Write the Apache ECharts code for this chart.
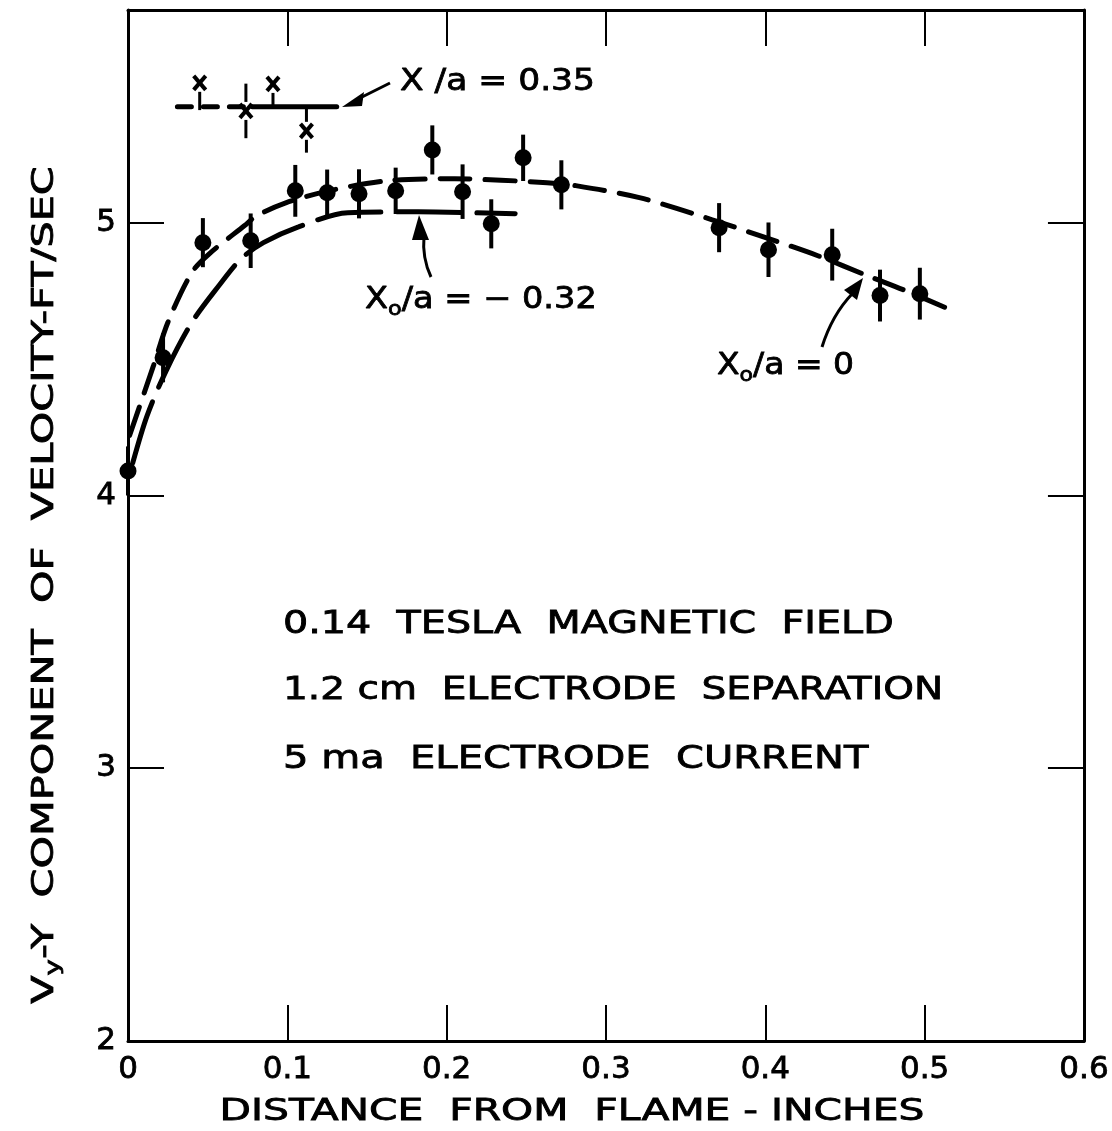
<!DOCTYPE html>
<html>
<head>
<meta charset="utf-8">
<title>Vy component of velocity vs distance from flame</title>
<script src="https://cdn.jsdelivr.net/npm/echarts@6/dist/echarts.min.js"></script>
<style>html,body{margin:0;background:#fff;}</style>
</head>
<body>
<div id="chart" style="width:1112px;height:1131px;"></div>
<script>
// measured points (filled circles) with their error bar half heights
var distX = [0.0, 0.022, 0.047, 0.077, 0.105, 0.125, 0.145, 0.168, 0.191, 0.210, 0.228, 0.248, 0.272, 0.371, 0.402, 0.442, 0.472, 0.497];
var velY  = [4.09, 4.505, 4.927, 4.934, 5.117, 5.110, 5.106, 5.117, 5.267, 5.114, 4.996, 5.238, 5.139, 4.982, 4.901, 4.883, 4.733, 4.740];
var errY  = [0.09, 0.09, 0.09, 0.10, 0.095, 0.085, 0.09, 0.085, 0.09, 0.10, 0.09, 0.085, 0.09, 0.09, 0.10, 0.095, 0.095, 0.095];

// X/a = 0.35 crosses
var crossX    = [0.045, 0.074, 0.091, 0.112];
var crossY    = [5.513, 5.410, 5.509, 5.337];
var crossUp   = [0, 0.10, 0, 0.09];
var crossDown = [0.10, 0.10, 0.08, 0.08];

// faired curves
var curve0X  = [0.001, 0.016, 0.025, 0.040, 0.051, 0.073, 0.081, 0.099, 0.126, 0.163, 0.205, 0.263, 0.281, 0.321, 0.363, 0.397, 0.433, 0.464, 0.488, 0.513];
var curve0Y  = [4.22, 4.476, 4.634, 4.817, 4.886, 4.989, 5.026, 5.073, 5.117, 5.154, 5.161, 5.147, 5.136, 5.092, 5.018, 4.952, 4.879, 4.806, 4.751, 4.689];
var curve32X = [0.003, 0.012, 0.024, 0.040, 0.057, 0.071, 0.085, 0.107, 0.138, 0.182, 0.243];
var curve32Y = [4.12, 4.293, 4.458, 4.634, 4.769, 4.868, 4.927, 4.985, 5.037, 5.040, 5.033];
var line35X  = [0.031, 0.078, 0.131];
var line35Y  = [5.425, 5.425, 5.425];

var FONT = 'DejaVu Sans';

function pairs(xs, ys) {
    return xs.map(function (x, i) { return [x, ys[i]]; });
}

var myChart = echarts.init(document.getElementById('chart'));

var axisCommon = {
    type: 'value',
    axisLine: { show: true, onZero: false, lineStyle: { color: '#000', width: 3 } },
    axisTick: { show: true, inside: true, length: 36, lineStyle: { color: '#000', width: 2 } },
    splitLine: { show: false }
};
var tickFont = { color: '#000', fontSize: 31, fontFamily: FONT, textBorderColor: '#000', textBorderWidth: 0.8 };
// annotation text style, slightly heavier like the lettering of the original
function txt(size) {
    return { fontSize: size, fontFamily: FONT, fill: '#000', stroke: '#000', lineWidth: 0.8 };
}

option = {
    animation: false,
    backgroundColor: '#fff',
    grid: { left: 128, right: 22, top: 10, bottom: 90 },
    xAxis: [
        Object.assign({}, axisCommon, {
            min: 0, max: 0.6, interval: 0.1, position: 'bottom',
            axisLabel: Object.assign({ margin: 13 }, tickFont)
        }),
        Object.assign({}, axisCommon, {
            min: 0, max: 0.6, interval: 0.1, position: 'top',
            axisLabel: { show: false }
        })
    ],
    yAxis: [
        Object.assign({}, axisCommon, {
            min: 2, max: 5.78, interval: 1, position: 'left',
            axisLabel: Object.assign({
                margin: 12,
                formatter: function (v) { return v % 1 === 0 ? String(v) : ''; }
            }, tickFont)
        }),
        Object.assign({}, axisCommon, {
            min: 2, max: 5.78, interval: 1, position: 'right',
            axisLabel: { show: false }
        })
    ],
    series: [
        {
            name: 'Xo/a = 0', type: 'line', smooth: 0.3, symbol: 'none', z: 2,
            data: pairs(curve0X, curve0Y),
            lineStyle: { color: '#000', width: 5, type: [30, 15], cap: 'round' }
        },
        {
            name: 'Xo/a = -0.32', type: 'line', smooth: 0.3, symbol: 'none', z: 2,
            data: pairs(curve32X, curve32Y),
            lineStyle: { color: '#000', width: 5, type: [64, 16], cap: 'round' }
        },
        {
            name: 'X/a = 0.35 dashed', type: 'line', symbol: 'none', z: 2,
            data: pairs(line35X.slice(0, 2), line35Y.slice(0, 2)),
            lineStyle: { color: '#000', width: 5, type: [14, 12], cap: 'round' }
        },
        {
            name: 'X/a = 0.35', type: 'line', symbol: 'none', z: 2,
            data: pairs(line35X.slice(1), line35Y.slice(1)),
            lineStyle: { color: '#000', width: 5, cap: 'round' }
        },
        {
            name: 'error bars', type: 'custom', z: 3,
            data: distX.map(function (x, i) { return [x, velY[i] - errY[i], velY[i] + errY[i]]; }),
            renderItem: function (params, api) {
                var lo = api.coord([api.value(0), api.value(1)]);
                var hi = api.coord([api.value(0), api.value(2)]);
                return {
                    type: 'line',
                    shape: { x1: lo[0], y1: lo[1], x2: hi[0], y2: hi[1] },
                    style: { stroke: '#000', lineWidth: 4 }
                };
            }
        },
        {
            name: 'points', type: 'scatter', z: 4,
            symbol: 'circle', symbolSize: 17,
            itemStyle: { color: '#000', opacity: 1 },
            data: pairs(distX, velY)
        },
        {
            name: 'X/a = 0.35 points', type: 'custom', z: 4,
            data: crossX.map(function (x, i) {
                return [x, crossY[i], crossY[i] - crossDown[i], crossY[i] + crossUp[i]];
            }),
            renderItem: function (params, api) {
                var c = api.coord([api.value(0), api.value(1)]);
                var lo = api.coord([api.value(0), api.value(2)]);
                var hi = api.coord([api.value(0), api.value(3)]);
                var s = 6;
                var st = { stroke: '#000', lineWidth: 4 };
                var kids = [
                    { type: 'line', shape: { x1: c[0] - s, y1: c[1] - s - 1, x2: c[0] + s, y2: c[1] + s + 1 }, style: st },
                    { type: 'line', shape: { x1: c[0] + s, y1: c[1] - s - 1, x2: c[0] - s, y2: c[1] + s + 1 }, style: st }
                ];
                if (lo[1] - c[1] > 8) {
                    kids.push({ type: 'line', shape: { x1: c[0], y1: c[1] + 9, x2: lo[0], y2: lo[1] }, style: { stroke: '#000', lineWidth: 3 } });
                }
                if (c[1] - hi[1] > 8) {
                    kids.push({ type: 'line', shape: { x1: c[0], y1: c[1] - 9, x2: hi[0], y2: hi[1] }, style: { stroke: '#000', lineWidth: 3 } });
                }
                return { type: 'group', children: kids };
            }
        }
    ],
    graphic: [
        // axis titles
        {
            type: 'text', x: 572, y: 1112, scaleX: 1.36,
            style: Object.assign({ text: 'DISTANCE  FROM  FLAME - INCHES', align: 'center', verticalAlign: 'middle' }, txt(30))
        },
        {
            type: 'text', x: 45, y: 585, rotation: Math.PI / 2, scaleX: 1.38,
            style: {
                text: '{a|V}{s|y}{a|-Y  COMPONENT  OF  VELOCITY-FT/SEC}',
                align: 'center', verticalAlign: 'middle',
                rich: {
                    a: txt(30),
                    s: Object.assign({ padding: [18, 0, 0, 0] }, txt(20))
                }
            }
        },
        // curve labels
        {
            type: 'text', x: 400, y: 82, scaleX: 1.15,
            style: Object.assign({ text: 'X /a = 0.35', align: 'left', verticalAlign: 'middle' }, txt(30))
        },
        {
            type: 'text', x: 365, y: 300, scaleX: 1.12,
            style: {
                text: '{a|X}{s|o}{a|/a = − 0.32}', align: 'left', verticalAlign: 'middle',
                rich: { a: txt(30), s: Object.assign({ padding: [20, 0, 0, 0] }, txt(20)) }
            }
        },
        {
            type: 'text', x: 717, y: 366, scaleX: 1.1,
            style: {
                text: '{a|X}{s|o}{a|/a = 0}', align: 'left', verticalAlign: 'middle',
                rich: { a: txt(30), s: Object.assign({ padding: [20, 0, 0, 0] }, txt(20)) }
            }
        },
        // arrows
        { type: 'line', shape: { x1: 390, y1: 83, x2: 358, y2: 99 }, style: { stroke: '#000', lineWidth: 3 } },
        { type: 'polygon', shape: { points: [[342, 107], [364, 92], [362, 106]] }, style: { fill: '#000' } },
        { type: 'bezierCurve', shape: { x1: 424, y1: 236, cpx1: 422, cpy1: 258, x2: 431, y2: 277 }, style: { stroke: '#000', lineWidth: 3, fill: null } },
        { type: 'polygon', shape: { points: [[419, 215], [412, 240], [429, 240]] }, style: { fill: '#000' } },
        { type: 'bezierCurve', shape: { x1: 852, y1: 294, cpx1: 832, cpy1: 315, x2: 822, y2: 347 }, style: { stroke: '#000', lineWidth: 3, fill: null } },
        { type: 'polygon', shape: { points: [[863, 278], [844, 290], [857, 300]] }, style: { fill: '#000' } },
        // conditions block
        {
            type: 'text', x: 283, y: 625, scaleX: 1.24,
            style: Object.assign({ text: '0.14  TESLA  MAGNETIC  FIELD', align: 'left', verticalAlign: 'middle' }, txt(32))
        },
        {
            type: 'text', x: 283, y: 691, scaleX: 1.22,
            style: Object.assign({ text: '1.2 cm  ELECTRODE  SEPARATION', align: 'left', verticalAlign: 'middle' }, txt(32))
        },
        {
            type: 'text', x: 283, y: 760, scaleX: 1.25,
            style: Object.assign({ text: '5 ma  ELECTRODE  CURRENT', align: 'left', verticalAlign: 'middle' }, txt(32))
        }
    ]
};
myChart.setOption(option);
</script>
</body>
</html>
